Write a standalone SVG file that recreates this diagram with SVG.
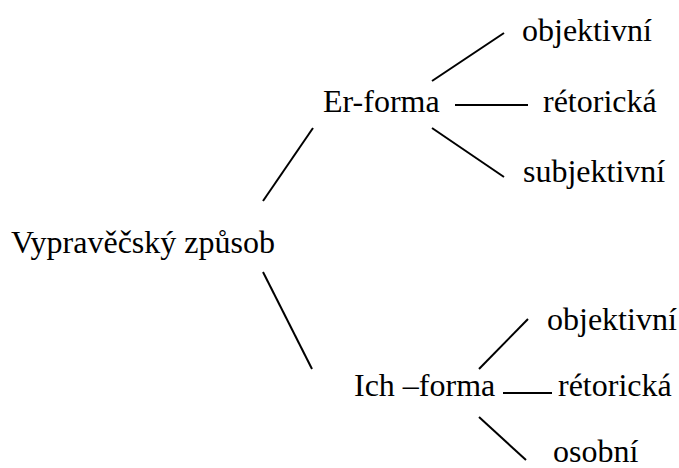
<svg xmlns="http://www.w3.org/2000/svg" width="679" height="468" viewBox="0 0 679 468">
<rect width="679" height="468" fill="#fff"/>
<g id="connectors" stroke="#000" stroke-width="2" fill="none">
<line x1="263" y1="201" x2="313" y2="128"/>
<line x1="263" y1="272" x2="312" y2="369"/>
<line x1="432" y1="81" x2="504" y2="33"/>
<line x1="455" y1="105" x2="528" y2="105"/>
<line x1="432" y1="128" x2="504" y2="177"/>
<line x1="479" y1="369" x2="528" y2="319"/>
<line x1="503" y1="393" x2="552" y2="393"/>
<line x1="479" y1="417" x2="526" y2="460"/>
</g>
<g font-family="'Times New Roman', 'Liberation Serif', serif" font-size="32">
<g id="root"><text x="11" y="253">Vypravěčský způsob</text></g>
<g id="er"><text x="323" y="112">Er-forma</text></g>
<g id="er-obj"><text x="522" y="41">objektivní</text></g>
<g id="er-ret"><text x="543" y="112">rétorická</text></g>
<g id="er-subj"><text x="523" y="182">subjektivní</text></g>
<g id="ich"><text x="354" y="396">Ich –forma</text></g>
<g id="ich-obj"><text x="547" y="330">objektivní</text></g>
<g id="ich-ret"><text x="558" y="396">rétorická</text></g>
<g id="ich-os"><text x="553" y="462">osobní</text></g>
</g>
</svg>
